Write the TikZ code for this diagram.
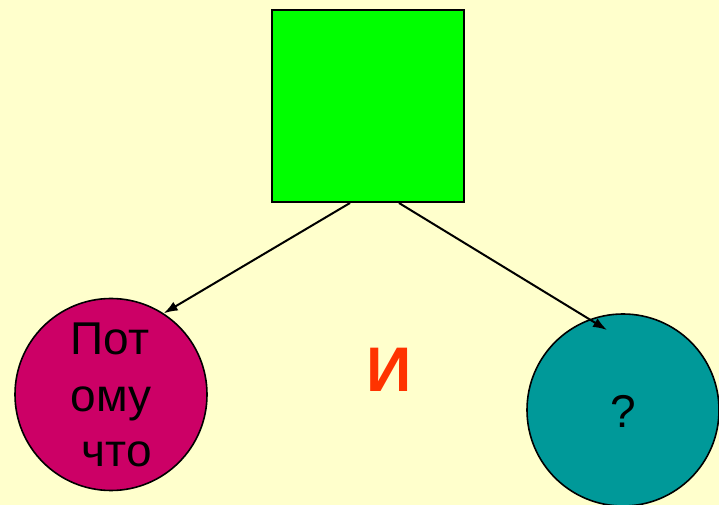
\documentclass[tikz,border=0pt]{standalone}
\usepackage{fontspec}
\setmainfont{Liberation Sans}[BoldFont={Liberation Sans Bold}]
\usetikzlibrary{arrows.meta,calc}
\definecolor{bgyellow}{HTML}{FFFFCC}
\definecolor{sqgreen}{HTML}{00FF00}
\definecolor{magentaC}{HTML}{CC0066}
\definecolor{tealC}{HTML}{009999}
\definecolor{redI}{HTML}{FF3300}
\tikzset{
  shapeline/.style={draw=black,line width=1.6pt},
  arrowline/.style={draw=black,line width=2pt,-{Latex[length=14pt,width=10pt]}},
  bigtext/.style={font=\fontsize{46}{55}\selectfont,text=black}}
\begin{document}
\begin{tikzpicture}[x=1pt,y=1pt]
\useasboundingbox[fill=bgyellow] (0,0) rectangle (719,505);
\node[shapeline,fill=sqgreen,minimum size=192pt,inner sep=0pt,anchor=south west] (sq) at (271,302) {};
\node[shapeline,fill=magentaC,circle,minimum size=192pt,inner sep=0pt] (L) at (111,110.5) {};
\node[shapeline,fill=tealC,circle,minimum size=192pt,inner sep=0pt] (R) at (623,95) {};
\node[bigtext,anchor=base] (t1) at (110,150) {Пот};
\node[bigtext,anchor=base] (t2) at (111,93) {ому};
\node[bigtext,anchor=base] (t3) at (117,38) {что};
\node[bigtext,anchor=base] (q) at (623,77) {?};
\node[text=redI,anchor=base] (i) at (389,113) {\fontsize{63}{70}\selectfont\textbf{И}};
\coordinate (s1) at ($(sq.south west)+(79,0)$);
\coordinate (s2) at ($(sq.south west)+(128,0)$);
\coordinate (e2) at ($(R.center)+(-16,80)$);
\draw[arrowline] (s1) -- (L.57.6);
\draw[arrowline] (s2) -- (e2);
\end{tikzpicture}
\end{document}
